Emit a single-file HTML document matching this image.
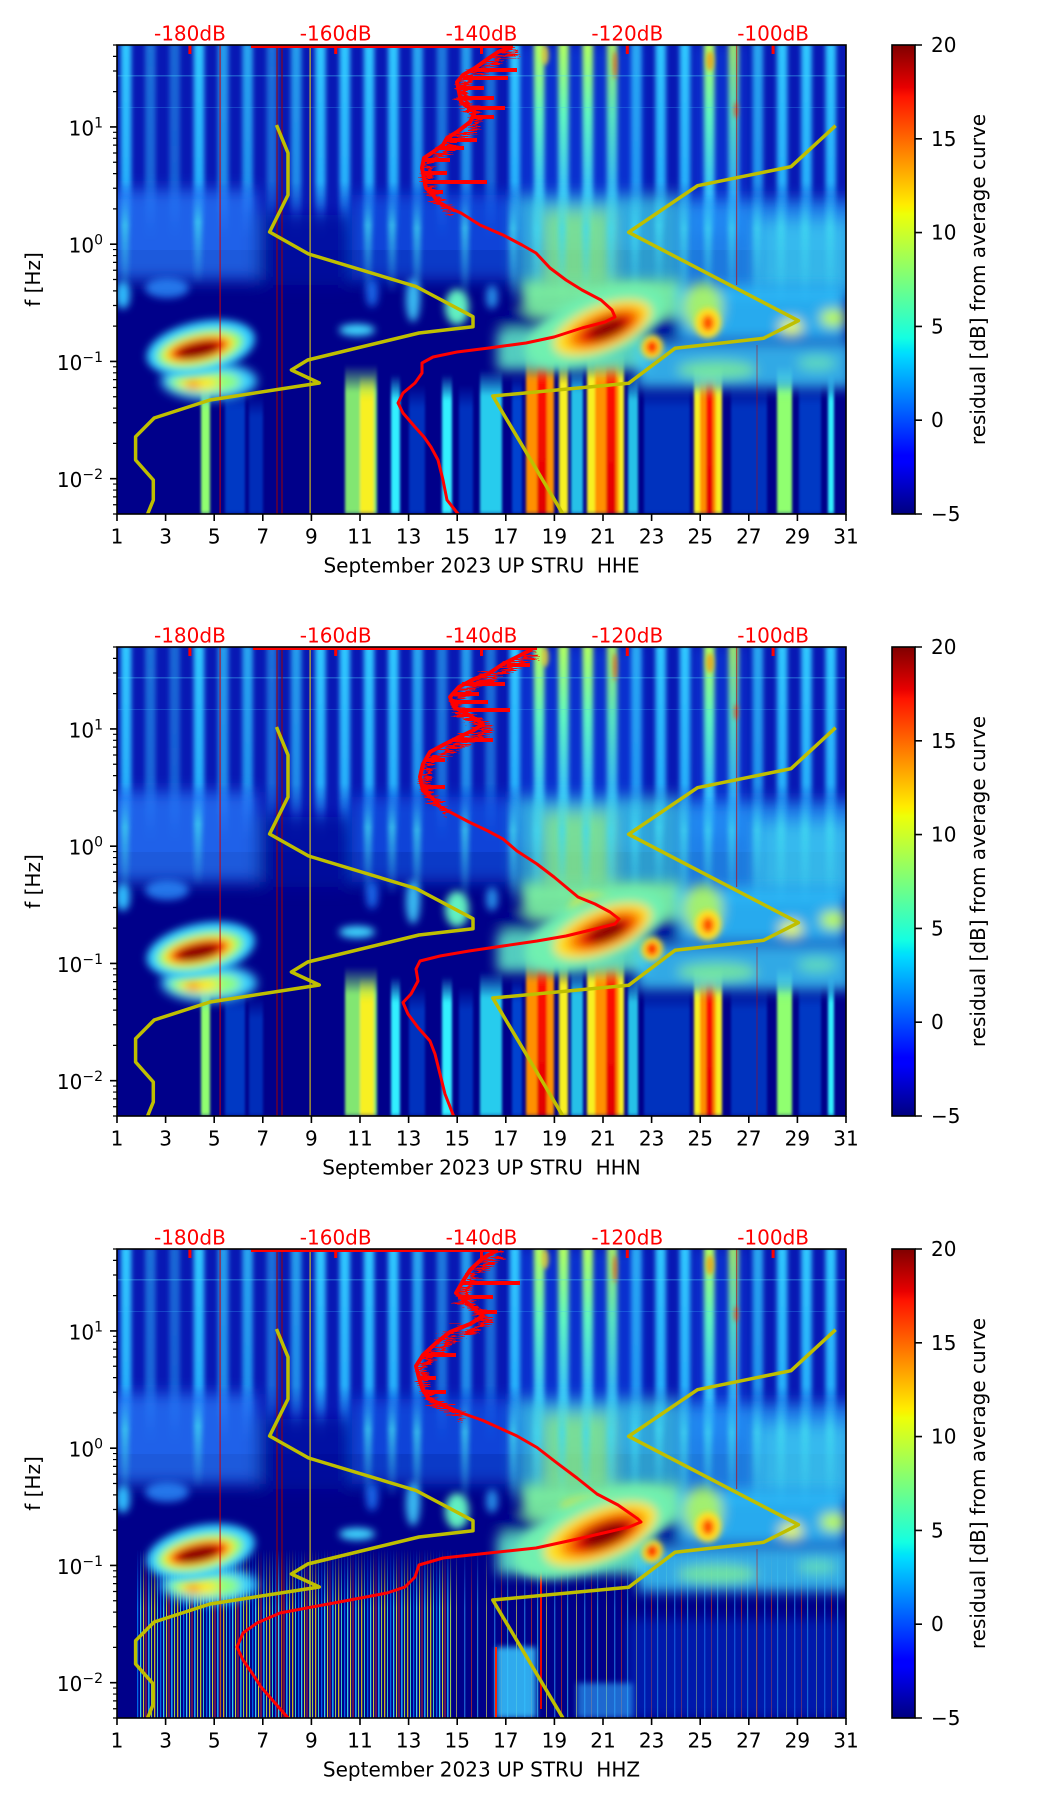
<!DOCTYPE html>
<html><head><meta charset="utf-8"><style>
html,body{margin:0;padding:0;background:#fff;}
svg{display:block;}
text{font-family:"DejaVu Sans","Liberation Sans",sans-serif;}
</style></head><body>
<svg width="1052" height="1806" viewBox="0 0 1052 1806" xmlns="http://www.w3.org/2000/svg">
<defs>
<clipPath id="pc"><rect x="0" y="0" width="729" height="469"/></clipPath>
<filter id="b2" x="-50%" y="-50%" width="200%" height="200%"><feGaussianBlur stdDeviation="2"/></filter>
<filter id="b3" x="-50%" y="-50%" width="200%" height="200%"><feGaussianBlur stdDeviation="3"/></filter>
<filter id="b4" x="-50%" y="-50%" width="200%" height="200%"><feGaussianBlur stdDeviation="4"/></filter>
<filter id="b5" x="-50%" y="-50%" width="200%" height="200%"><feGaussianBlur stdDeviation="5"/></filter>
<filter id="b6" x="-20%" y="-20%" width="140%" height="140%"><feGaussianBlur stdDeviation="6"/></filter>
<filter id="b8" x="-20%" y="-20%" width="140%" height="140%"><feGaussianBlur stdDeviation="8"/></filter>
<filter id="bs" x="-5%" y="-5%" width="110%" height="110%"><feGaussianBlur stdDeviation="2.5 1"/></filter>
<filter id="bc" x="-10%" y="-10%" width="120%" height="120%"><feGaussianBlur stdDeviation="1.2 2"/></filter>
<filter id="nz" x="-30%" y="-10%" width="160%" height="120%">
<feTurbulence type="turbulence" baseFrequency="0.04 0.5" numOctaves="2" seed="3" result="t"/>
<feDisplacementMap in="SourceGraphic" in2="t" scale="20" xChannelSelector="R" yChannelSelector="G"/>
</filter>

<linearGradient id="jet" x1="0" y1="1" x2="0" y2="0">
<stop offset="0" stop-color="#000080"/><stop offset="0.11" stop-color="#0000ff"/><stop offset="0.125" stop-color="#0000ff"/>
<stop offset="0.34" stop-color="#00dbff"/><stop offset="0.35" stop-color="#00e6f7"/><stop offset="0.375" stop-color="#14ffe2"/>
<stop offset="0.64" stop-color="#eeff08"/><stop offset="0.65" stop-color="#f7f500"/><stop offset="0.66" stop-color="#ffec00"/>
<stop offset="0.89" stop-color="#ff1300"/><stop offset="0.91" stop-color="#e80000"/><stop offset="1" stop-color="#800000"/>
</linearGradient>

<linearGradient id="sg" x1="0" y1="0" x2="0" y2="1">
<stop offset="0" stop-color="#30c8ff"/><stop offset="0.7" stop-color="#28b8ff" stop-opacity="0.95"/><stop offset="1" stop-color="#2080ff" stop-opacity="0"/>
</linearGradient>
<linearGradient id="sgy" x1="0" y1="0" x2="0" y2="1">
<stop offset="0" stop-color="#b0ff60"/><stop offset="0.35" stop-color="#60f8c0"/><stop offset="0.75" stop-color="#38c8ff" stop-opacity="0.95"/><stop offset="1" stop-color="#2080ff" stop-opacity="0"/>
</linearGradient>
<linearGradient id="st" x1="0" y1="0" x2="0" y2="1">
<stop offset="0" stop-color="#40d8f0" stop-opacity="0"/><stop offset="0.3" stop-color="#40d8f0" stop-opacity="0.75"/><stop offset="1" stop-color="#40d8f0" stop-opacity="0"/>
</linearGradient>

<linearGradient id="cC" x1="0" y1="0" x2="0" y2="1"><stop offset="0" stop-color="#30f0ff" stop-opacity="0"/><stop offset="0.18" stop-color="#30f0ff"/><stop offset="1" stop-color="#30f0ff"/></linearGradient>
<linearGradient id="cY" x1="0" y1="0" x2="0" y2="1"><stop offset="0" stop-color="#f8f020" stop-opacity="0"/><stop offset="0.18" stop-color="#f8f020"/><stop offset="1" stop-color="#f8f020"/></linearGradient>
<linearGradient id="cO" x1="0" y1="0" x2="0" y2="1"><stop offset="0" stop-color="#ff9000" stop-opacity="0"/><stop offset="0.18" stop-color="#ff9000"/><stop offset="1" stop-color="#ff9000"/></linearGradient>
<linearGradient id="cR" x1="0" y1="0" x2="0" y2="1"><stop offset="0" stop-color="#ff1000" stop-opacity="0"/><stop offset="0.18" stop-color="#ff1000"/><stop offset="1" stop-color="#e00000"/></linearGradient>
<linearGradient id="cG" x1="0" y1="0" x2="0" y2="1"><stop offset="0" stop-color="#90ff70" stop-opacity="0"/><stop offset="0.18" stop-color="#90ff70"/><stop offset="1" stop-color="#90ff70"/></linearGradient>
<linearGradient id="cB" x1="0" y1="0" x2="0" y2="1"><stop offset="0" stop-color="#0070ff" stop-opacity="0"/><stop offset="0.18" stop-color="#0070ff"/><stop offset="1" stop-color="#0070ff"/></linearGradient>

<linearGradient id="fadeW" x1="0" y1="0" x2="0" y2="1"><stop offset="0" stop-color="#fff" stop-opacity="0"/><stop offset="0.35" stop-color="#fff" stop-opacity="1"/><stop offset="1" stop-color="#fff" stop-opacity="1"/></linearGradient>
<mask id="m3" maskUnits="userSpaceOnUse" x="0" y="0" width="729" height="469"><rect x="0" y="300" width="729" height="169" fill="url(#fadeW)"/></mask>

<pattern id="p3a" patternUnits="userSpaceOnUse" x="0" y="0" width="23" height="10">
<rect x="0" y="0" width="1.3" height="10" fill="#40ffff"/><rect x="3" y="0" width="1.1" height="10" fill="#ffff20"/>
<rect x="5.5" y="0" width="1" height="10" fill="#ff3000"/><rect x="8" y="0" width="1.6" height="10" fill="#20c0ff"/>
<rect x="11" y="0" width="1.1" height="10" fill="#c0ff40"/><rect x="14" y="0" width="1.3" height="10" fill="#ffe000"/>
<rect x="17" y="0" width="1" height="10" fill="#40ffd0"/><rect x="20" y="0" width="1.3" height="10" fill="#0080ff"/>
</pattern>
<pattern id="p3b" patternUnits="userSpaceOnUse" x="0" y="0" width="30" height="10">
<rect x="0" y="0" width="1.2" height="10" fill="#40e0ff"/><rect x="9" y="0" width="1" height="10" fill="#ffff40"/>
<rect x="17" y="0" width="1.4" height="10" fill="#30a0ff"/><rect x="24" y="0" width="1" height="10" fill="#ff4000"/>
</pattern>

<g id="upper">
<rect x="0" y="0" width="729" height="205" fill="#0818b4"/>
<rect x="400" y="0" width="125" height="200" fill="#1050f0" opacity="0.45" filter="url(#b6)"/>
<rect x="575" y="0" width="55" height="190" fill="#1050f0" opacity="0.4" filter="url(#b6)"/>
<g filter="url(#bs)">
<rect x="3.8" y="0" width="10.5" height="195" fill="url(#sg)"/>
<rect x="28.1" y="0" width="10.5" height="195" fill="url(#sg)" opacity="0.5"/>
<rect x="52.4" y="0" width="10.5" height="195" fill="url(#sg)" opacity="0.45"/>
<rect x="76.7" y="0" width="10.5" height="195" fill="url(#sg)"/>
<rect x="101" y="0" width="10.5" height="195" fill="url(#sg)" opacity="0.75"/>
<rect x="125.3" y="0" width="10.5" height="195" fill="url(#sg)" opacity="0.8"/>
<rect x="149.6" y="0" width="10.5" height="195" fill="url(#sg)" opacity="0.5"/>
<rect x="173.9" y="0" width="10.5" height="195" fill="url(#sg)" opacity="0.75"/>
<rect x="198.2" y="0" width="10.5" height="195" fill="url(#sg)"/>
<rect x="222.5" y="0" width="10.5" height="195" fill="url(#sg)"/>
<rect x="246.8" y="0" width="10.5" height="195" fill="url(#sg)"/>
<rect x="271.1" y="0" width="10.5" height="195" fill="url(#sg)"/>
<rect x="295.4" y="0" width="10.5" height="195" fill="url(#sg)" opacity="0.8"/>
<rect x="319.7" y="0" width="10.5" height="195" fill="url(#sg)" opacity="0.55"/>
<rect x="344" y="0" width="10.5" height="195" fill="url(#sg)" opacity="0.75"/>
<rect x="368.3" y="0" width="10.5" height="195" fill="url(#sg)" opacity="0.5"/>
<rect x="392.6" y="0" width="10.5" height="195" fill="url(#sg)"/>
<rect x="416.9" y="0" width="10.5" height="200" fill="url(#sgy)"/>
<rect x="441.2" y="0" width="10.5" height="200" fill="url(#sgy)"/>
<rect x="465.5" y="0" width="10.5" height="200" fill="url(#sgy)"/>
<rect x="489.8" y="0" width="10.5" height="200" fill="url(#sgy)" opacity="0.9"/>
<rect x="514.1" y="0" width="10.5" height="195" fill="url(#sg)" opacity="0.8"/>
<rect x="538.4" y="0" width="10.5" height="195" fill="url(#sg)"/>
<rect x="562.7" y="0" width="10.5" height="195" fill="url(#sg)"/>
<rect x="587" y="0" width="10.5" height="200" fill="url(#sgy)"/>
<rect x="611.3" y="0" width="10.5" height="200" fill="url(#sgy)" opacity="0.85"/>
<rect x="635.6" y="0" width="10.5" height="195" fill="url(#sg)" opacity="0.8"/>
<rect x="659.9" y="0" width="10.5" height="195" fill="url(#sg)"/>
<rect x="684.2" y="0" width="10.5" height="195" fill="url(#sg)"/>
<rect x="708.5" y="0" width="10.5" height="195" fill="url(#sg)"/>
</g>
<g filter="url(#b2)" opacity="0.7">
<ellipse cx="428" cy="10" rx="4" ry="10" fill="#ffe020"/>
<ellipse cx="593" cy="16" rx="4" ry="10" fill="#ff9000"/>
<ellipse cx="498" cy="20" rx="2" ry="14" fill="#ff4000"/>
<ellipse cx="619" cy="65" rx="2" ry="8" fill="#ff3000"/>
</g>
<rect x="0" y="30" width="729" height="1.5" fill="#50e0ff" opacity="0.3"/>
<rect x="0" y="62" width="729" height="1" fill="#40c0ff" opacity="0.25"/>
</g>

<g id="mid">
<g filter="url(#b8)">
<rect x="-10" y="145" width="150" height="90" fill="#2a80ff" opacity="0.7"/>
<rect x="140" y="170" width="95" height="70" fill="#0008a0" opacity="0.85"/>
<rect x="235" y="150" width="165" height="85" fill="#1060f0" opacity="0.6"/>
<rect x="400" y="150" width="165" height="95" fill="#40d8e8" opacity="0.72"/>
<rect x="425" y="165" width="70" height="80" fill="#a8ff68" opacity="0.6"/>
<rect x="565" y="155" width="175" height="95" fill="#28a8ff" opacity="0.72"/>
<rect x="640" y="175" width="95" height="70" fill="#48e0f0" opacity="0.6"/>
</g>
<g filter="url(#bs)">
<rect x="392" y="150" width="8" height="110" fill="url(#st)"/>
<rect x="416" y="150" width="8" height="110" fill="url(#st)"/>
<rect x="441" y="150" width="8" height="110" fill="url(#st)"/>
<rect x="465" y="150" width="8" height="110" fill="url(#st)"/>
<rect x="490" y="150" width="8" height="110" fill="url(#st)"/>
<rect x="514" y="150" width="8" height="110" fill="url(#st)"/>
<rect x="538" y="150" width="8" height="100" fill="url(#st)"/>
<rect x="563" y="150" width="8" height="110" fill="url(#st)"/>
<rect x="587" y="150" width="8" height="110" fill="url(#st)"/>
<rect x="611" y="150" width="8" height="110" fill="url(#st)"/>
<rect x="636" y="150" width="8" height="110" fill="url(#st)"/>
<rect x="660" y="150" width="8" height="110" fill="url(#st)"/>
<rect x="684" y="150" width="8" height="110" fill="url(#st)"/>
<rect x="709" y="150" width="8" height="110" fill="url(#st)"/>
<rect x="4" y="150" width="8" height="100" fill="url(#st)"/>
<rect x="77" y="150" width="8" height="90" fill="url(#st)"/>
<rect x="247" y="150" width="8" height="100" fill="url(#st)"/>
<rect x="271" y="150" width="8" height="100" fill="url(#st)"/>
<rect x="296" y="150" width="8" height="110" fill="url(#st)"/>
<rect x="344" y="150" width="8" height="110" fill="url(#st)"/>
</g>
<g filter="url(#b4)">
<ellipse cx="6" cy="250" rx="7" ry="14" fill="#30c0ff"/>
<ellipse cx="50" cy="243" rx="22" ry="10" fill="#2a90ff" opacity="0.8"/>
<ellipse cx="255" cy="248" rx="6" ry="14" fill="#2080ff" opacity="0.8"/>
<ellipse cx="296" cy="255" rx="7" ry="22" fill="#40d0ff" opacity="0.9"/>
<ellipse cx="340" cy="262" rx="12" ry="18" fill="#60f0c0"/>
<ellipse cx="240" cy="285" rx="18" ry="6" fill="#40d8ff"/>
<ellipse cx="375" cy="252" rx="6" ry="12" fill="#30b0ff" opacity="0.8"/>
</g>
<g filter="url(#b6)">
<rect x="405" y="235" width="160" height="40" fill="#80f8a0" opacity="0.9"/>
<rect x="560" y="240" width="169" height="55" fill="#30c8ff" opacity="0.85"/>
<rect x="380" y="285" width="150" height="40" fill="#60f0c8" opacity="0.85"/>
<rect x="520" y="298" width="215" height="45" fill="#40d8ff" opacity="0.78"/>
<ellipse cx="586" cy="262" rx="20" ry="25" fill="#c0ff50" opacity="0.8"/>
<ellipse cx="400" cy="275" rx="18" ry="10" fill="#000090"/>
<ellipse cx="548" cy="282" rx="16" ry="12" fill="#0000a0"/>
<ellipse cx="716" cy="273" rx="13" ry="9" fill="#c0ff40"/>
<ellipse cx="674" cy="282" rx="12" ry="8" fill="#f0ff30"/>
<ellipse cx="600" cy="325" rx="40" ry="10" fill="#90ff80" opacity="0.65"/>
<ellipse cx="700" cy="318" rx="20" ry="8" fill="#80ffa0" opacity="0.55"/>
</g>
<g filter="url(#b3)">
<ellipse cx="591" cy="278" rx="13" ry="15" fill="#ffe020"/>
<ellipse cx="591" cy="278" rx="6" ry="8" fill="#ff5000"/>
<ellipse cx="535" cy="302" rx="11" ry="12" fill="#ffe020"/>
<ellipse cx="535" cy="302" rx="6" ry="7" fill="#ff3000"/>
</g>
<g filter="url(#b5)">
<ellipse cx="92" cy="336" rx="48" ry="19" fill="#38d0ff"/>
<ellipse cx="88" cy="337" rx="36" ry="12" fill="#90ff78"/>
<ellipse cx="82" cy="338" rx="20" ry="7" fill="#ffe820"/>
<ellipse cx="76" cy="340" rx="6" ry="4" fill="#ff5000"/>
</g>
<g filter="url(#b4)" transform="rotate(-12 82 304)">
<ellipse cx="84" cy="303" rx="55" ry="26" fill="#30d0ff"/>
<ellipse cx="83" cy="304" rx="44" ry="18" fill="#90ff70"/>
<ellipse cx="82" cy="304" rx="36" ry="13" fill="#ffd820"/>
<ellipse cx="82" cy="304" rx="29" ry="10" fill="#f02000"/>
<ellipse cx="81" cy="305" rx="21" ry="7" fill="#8a0000"/>
</g>
</g>

<g id="low12">
<g filter="url(#bc)">
<rect x="84" y="335" width="9" height="134" fill="url(#cG)"/>
<rect x="108" y="340" width="20" height="129" fill="url(#cB)" opacity="0.5"/>
<rect x="132" y="350" width="14" height="119" fill="url(#cB)" opacity="0.4"/>
<rect x="228" y="320" width="32" height="149" fill="url(#cG)" opacity="0.9"/>
<rect x="243" y="330" width="14" height="139" fill="url(#cY)"/>
<rect x="274" y="330" width="9" height="139" fill="url(#cC)"/>
<rect x="292" y="340" width="16" height="129" fill="url(#cB)" opacity="0.45"/>
<rect x="325" y="330" width="10" height="139" fill="url(#cC)"/>
<rect x="342" y="340" width="14" height="129" fill="url(#cB)" opacity="0.45"/>
<rect x="363" y="325" width="22" height="144" fill="url(#cC)" opacity="0.85"/>
<rect x="395" y="330" width="10" height="139" fill="url(#cB)" opacity="0.6"/>
<rect x="409" y="305" width="28" height="164" fill="url(#cO)"/>
<rect x="420" y="310" width="10" height="159" fill="url(#cR)"/>
<rect x="442" y="310" width="9" height="159" fill="url(#cY)"/>
<rect x="454" y="320" width="12" height="149" fill="url(#cC)" opacity="0.8"/>
<rect x="470" y="305" width="37" height="164" fill="url(#cY)"/>
<rect x="478" y="310" width="24" height="159" fill="url(#cO)"/>
<rect x="489" y="315" width="10" height="154" fill="url(#cR)"/>
<rect x="511" y="330" width="10" height="139" fill="url(#cC)" opacity="0.8"/>
<rect x="527" y="340" width="46" height="129" fill="url(#cB)" opacity="0.45"/>
<rect x="577" y="320" width="28" height="149" fill="url(#cY)"/>
<rect x="583" y="325" width="16" height="144" fill="url(#cO)"/>
<rect x="589" y="330" width="7" height="139" fill="url(#cR)"/>
<rect x="614" y="340" width="36" height="129" fill="url(#cB)" opacity="0.45"/>
<rect x="660" y="320" width="15" height="149" fill="url(#cG)"/>
<rect x="682" y="335" width="22" height="134" fill="url(#cB)" opacity="0.5"/>
<rect x="711" y="330" width="6" height="139" fill="url(#cC)"/>
</g>
</g>

<g id="low3">
<g mask="url(#m3)" opacity="0.8">
<rect x="19" y="300" width="316" height="169" fill="url(#p3a)"/>
<rect x="335" y="300" width="394" height="169" fill="url(#p3b)" opacity="0.7"/>
</g>
<rect x="510" y="370" width="219" height="99" fill="#0040e0" opacity="0.4" filter="url(#b6)"/>
<rect x="379" y="398" width="40" height="71" fill="#38c8ff" opacity="0.85" filter="url(#b3)"/>
<rect x="378" y="398" width="2" height="71" fill="#ff2000"/>
<rect x="460" y="434" width="56" height="35" fill="#30b0ff" opacity="0.6" filter="url(#b3)"/>
<rect x="423" y="300" width="2" height="160" fill="url(#cR)"/>
</g>

<g id="thin">
<rect x="102.5" y="0" width="1.2" height="469" fill="#d00000" opacity="0.8"/>
<rect x="159.5" y="0" width="1" height="469" fill="#a00000"/>
<rect x="164.5" y="0" width="1" height="469" fill="#a00000"/>
<rect x="192.5" y="0" width="1.2" height="469" fill="#ffe000" opacity="0.8"/>
<rect x="619" y="0" width="1.2" height="240" fill="#c00000" opacity="0.6"/>
<rect x="639.5" y="300" width="1" height="169" fill="#c00000" opacity="0.5"/>
</g>

<g id="yel" fill="none" stroke="#bfbf00" stroke-width="3.5" stroke-linejoin="round">
<polyline points="159.5,80 171,108 171,150 152.6,187 191.6,209 299,241.5 356,271.7 356,281.7 302,288 190.7,315 174.4,325 202.3,338 93,355 37.2,373 18.6,391.7 18.6,415 36.3,435 36.3,455 30.2,470"/>
<polyline points="718.6,80.7 674,121.7 580.5,140.7 511.6,187.3 681.4,275.7 646.5,293.3 558,303.3 511.6,338.3 375.8,351 446.5,470"/>
</g>

<g id="rt" fill="#ff0000">
<rect x="71.4" y="0" width="3" height="9"/><rect x="217.2" y="0" width="3" height="9"/><rect x="363" y="0" width="3" height="9"/><rect x="508.8" y="0" width="3" height="9"/><rect x="654.6" y="0" width="3" height="9"/>
</g>

<g id="ticks" stroke="#000" fill="none">
<path stroke-width="1.6" d="M-7 81.95H0M-7 199.2H0M-7 316.45H0M-7 433.7H0"/>
<path stroke-width="1.2" d="M-4 0H0M-4 11.36H0M-4 26.01H0M-4 46.66H0M-4 87.32H0M-4 93.32H0M-4 100.12H0M-4 107.97H0M-4 117.25H0M-4 128.61H0M-4 143.26H0M-4 163.91H0M-4 204.57H0M-4 210.57H0M-4 217.37H0M-4 225.22H0M-4 234.5H0M-4 245.86H0M-4 260.51H0M-4 281.16H0M-4 321.82H0M-4 327.82H0M-4 334.62H0M-4 342.47H0M-4 351.75H0M-4 363.11H0M-4 377.76H0M-4 398.41H0M-4 439.07H0M-4 445.07H0M-4 451.87H0M-4 459.72H0M-4 469H0"/>
<path stroke-width="1.6" d="M0 469V476M48.6 469V476M97.2 469V476M145.8 469V476M194.4 469V476M243 469V476M291.6 469V476M340.2 469V476M388.8 469V476M437.4 469V476M486 469V476M534.6 469V476M583.2 469V476M631.8 469V476M680.4 469V476M729 469V476"/>
<path stroke-width="1.6" d="M798 0H805M798 93.8H805M798 187.6H805M798 281.4H805M798 375.2H805M798 469H805"/>
</g>
</defs>

<rect width="1052" height="1806" fill="#fff"/>

<!-- PANEL 1 -->
<g transform="translate(117,45)">
<g clip-path="url(#pc)">
<rect width="729" height="469" fill="#00008a"/>
<use href="#upper"/>
<use href="#low12"/>
<use href="#mid"/>
<g filter="url(#b5)" transform="rotate(-22 488 284)">
<ellipse cx="480" cy="278" rx="75" ry="32" fill="#70f0b0"/>
<ellipse cx="486" cy="282" rx="52" ry="22" fill="#ffe020"/>
<ellipse cx="488" cy="283" rx="40" ry="16" fill="#ff8800"/>
<ellipse cx="489" cy="284" rx="30" ry="12" fill="#e81000"/>
<ellipse cx="490" cy="285" rx="20" ry="8" fill="#850000"/>
</g>
<use href="#thin"/>
<use href="#yel"/>
<g fill="none" stroke="#ff0000" stroke-linejoin="round">
<line x1="134" y1="1.5" x2="396" y2="1.5" stroke-width="3"/>
<polyline stroke-width="4" points="395,1.7 381,7 372,13 358,23 346,30 340,37 342,47 344,57 358,67 353,77 340,87 330,93 326,100 316,107 307,113 305,123 307,133 309,143 316,150 321,157 330,162"/>
<polyline stroke-width="6" filter="url(#nz)" points="395,1.7 381,7 372,13 358,23 346,30 340,37 342,47 344,57 358,67 353,77 340,87 330,93 326,100 316,107 307,113 305,123 307,133 309,143 316,150 321,157 330,162"/>
<path stroke-width="4" d="M358 25H400M346 33H391M341 43H367M343 53H377M350 63H388M355 72H377M328 95H360M321 103H347M306 115H333M306 128H330M308 137H370M312 147H326"/>
<polyline stroke-width="3" points="330,162 344,168 363,180 386,190 405,200 419,208 433,223 449,235 465,245 484,255 495,265 498,272 488,277 465,283 437,292 409,298 372,303 340,307 316,312 305,318 305,328 298,338 286,348 281,358 286,368 298,382 307,392 314,402 321,415 326,435 330,455 342,470"/>
</g>
<use href="#rt"/>
</g>
<rect x="0" y="0" width="729" height="469" fill="none" stroke="#000" stroke-width="1.6"/>
<rect x="775" y="0" width="23" height="469" fill="url(#jet)" stroke="#000" stroke-width="1.6"/>
<use href="#ticks"/>
<g font-size="20" fill="#ff0000" text-anchor="middle">
<text x="72.9" y="-4.5">-180dB</text><text x="218.7" y="-4.5">-160dB</text><text x="364.5" y="-4.5">-140dB</text><text x="510.3" y="-4.5">-120dB</text><text x="656.1" y="-4.5">-100dB</text>
</g>
<g font-size="20" fill="#000" text-anchor="end">
<text x="-14" y="90.5">10<tspan dy="-8" font-size="14">1</tspan></text>
<text x="-14" y="207.7">10<tspan dy="-8" font-size="14">0</tspan></text>
<text x="-14" y="325">10<tspan dy="-8" font-size="14">−1</tspan></text>
<text x="-14" y="442.2">10<tspan dy="-8" font-size="14">−2</tspan></text>
</g>
<g font-size="20" fill="#000" text-anchor="middle">
<text x="0" y="498.5">1</text><text x="48.6" y="498.5">3</text><text x="97.2" y="498.5">5</text><text x="145.8" y="498.5">7</text><text x="194.4" y="498.5">9</text><text x="243" y="498.5">11</text><text x="291.6" y="498.5">13</text><text x="340.2" y="498.5">15</text><text x="388.8" y="498.5">17</text><text x="437.4" y="498.5">19</text><text x="486" y="498.5">21</text><text x="534.6" y="498.5">23</text><text x="583.2" y="498.5">25</text><text x="631.8" y="498.5">27</text><text x="680.4" y="498.5">29</text><text x="729" y="498.5">31</text>
<text x="364.5" y="527.7">September 2023 UP STRU&#160; HHE</text>
<text transform="translate(-77,234.5) rotate(-90)">f [Hz]</text>
<text transform="translate(868,234.5) rotate(-90)">residual [dB] from average curve</text>
</g>
<g font-size="20" fill="#000">
<text x="814" y="7">20</text><text x="814" y="100.8">15</text><text x="814" y="194.6">10</text><text x="814" y="288.4">5</text><text x="814" y="382.2">0</text><text x="814" y="476">−5</text>
</g>
</g>

<!-- PANEL 2 -->
<g transform="translate(117,647)">
<g clip-path="url(#pc)">
<rect width="729" height="469" fill="#00008a"/>
<use href="#upper"/>
<use href="#low12"/>
<use href="#mid"/>
<g filter="url(#b4)">
<ellipse cx="476" cy="264" rx="24" ry="17" fill="#ffe020"/>
<ellipse cx="478" cy="266" rx="15" ry="11" fill="#ff3000"/>
</g>
<g filter="url(#b5)" transform="rotate(-22 488 285)">
<ellipse cx="480" cy="279" rx="75" ry="32" fill="#70f0b0"/>
<ellipse cx="486" cy="283" rx="52" ry="22" fill="#ffe020"/>
<ellipse cx="488" cy="284" rx="40" ry="16" fill="#ff8800"/>
<ellipse cx="489" cy="285" rx="30" ry="12" fill="#e81000"/>
<ellipse cx="490" cy="286" rx="20" ry="8" fill="#850000"/>
</g>
<use href="#thin"/>
<use href="#yel"/>
<g fill="none" stroke="#ff0000" stroke-linejoin="round">
<line x1="136" y1="1.5" x2="420" y2="1.5" stroke-width="3"/>
<polyline stroke-width="4" points="415,2.3 400,10 386,17 371,27 357,32 342,40 333,50 337,60 352,68 366,77 357,83 342,90 328,97 313,105 306,117 303,130 306,143.5 318,153.5 323,160"/>
<polyline stroke-width="6" filter="url(#nz)" points="415,2.3 400,10 386,17 371,27 357,32 342,40 333,50 337,60 352,68 366,77 357,83 342,90 328,97 313,105 306,117 303,130 306,143.5 318,153.5 323,160"/>
<path stroke-width="4" d="M390 18H413M345 37H388M335 47H362M335 55H371M345 63H393M335 93H376M307 113H328M305 140H328"/>
<polyline stroke-width="3" points="323,160 333,165 352,175 371,184 386,192 400,204 420,217 437,230 449,240 461,250 478,257 493,265 502,272 498,277 478,282 449,289 420,294 386,299 352,304 323,309 303,314 299,322 301,334 294,347 286,355.5 291,367 301,380.5 313,394 318,407 323,427 328,447 337,470"/>
</g>
<use href="#rt"/>
</g>
<rect x="0" y="0" width="729" height="469" fill="none" stroke="#000" stroke-width="1.6"/>
<rect x="775" y="0" width="23" height="469" fill="url(#jet)" stroke="#000" stroke-width="1.6"/>
<use href="#ticks"/>
<g font-size="20" fill="#ff0000" text-anchor="middle">
<text x="72.9" y="-4.5">-180dB</text><text x="218.7" y="-4.5">-160dB</text><text x="364.5" y="-4.5">-140dB</text><text x="510.3" y="-4.5">-120dB</text><text x="656.1" y="-4.5">-100dB</text>
</g>
<g font-size="20" fill="#000" text-anchor="end">
<text x="-14" y="90.5">10<tspan dy="-8" font-size="14">1</tspan></text>
<text x="-14" y="207.7">10<tspan dy="-8" font-size="14">0</tspan></text>
<text x="-14" y="325">10<tspan dy="-8" font-size="14">−1</tspan></text>
<text x="-14" y="442.2">10<tspan dy="-8" font-size="14">−2</tspan></text>
</g>
<g font-size="20" fill="#000" text-anchor="middle">
<text x="0" y="498.5">1</text><text x="48.6" y="498.5">3</text><text x="97.2" y="498.5">5</text><text x="145.8" y="498.5">7</text><text x="194.4" y="498.5">9</text><text x="243" y="498.5">11</text><text x="291.6" y="498.5">13</text><text x="340.2" y="498.5">15</text><text x="388.8" y="498.5">17</text><text x="437.4" y="498.5">19</text><text x="486" y="498.5">21</text><text x="534.6" y="498.5">23</text><text x="583.2" y="498.5">25</text><text x="631.8" y="498.5">27</text><text x="680.4" y="498.5">29</text><text x="729" y="498.5">31</text>
<text x="364.5" y="527.7">September 2023 UP STRU&#160; HHN</text>
<text transform="translate(-77,234.5) rotate(-90)">f [Hz]</text>
<text transform="translate(868,234.5) rotate(-90)">residual [dB] from average curve</text>
</g>
<g font-size="20" fill="#000">
<text x="814" y="7">20</text><text x="814" y="100.8">15</text><text x="814" y="194.6">10</text><text x="814" y="288.4">5</text><text x="814" y="382.2">0</text><text x="814" y="476">−5</text>
</g>
</g>

<!-- PANEL 3 -->
<g transform="translate(117,1249)">
<g clip-path="url(#pc)">
<rect width="729" height="469" fill="#00008a"/>
<use href="#upper"/>
<use href="#low3"/>
<use href="#mid"/>
<g filter="url(#b4)">
<ellipse cx="482" cy="258" rx="38" ry="11" fill="#ffe020" opacity="0.8"/>
</g>
<g filter="url(#b5)" transform="rotate(-22 486 286)">
<ellipse cx="478" cy="280" rx="85" ry="36" fill="#70f0b0"/>
<ellipse cx="484" cy="284" rx="60" ry="25" fill="#ffe020"/>
<ellipse cx="486" cy="285" rx="46" ry="18" fill="#ff8800"/>
<ellipse cx="487" cy="286" rx="35" ry="14" fill="#e81000"/>
<ellipse cx="488" cy="287" rx="24" ry="10" fill="#850000"/>
</g>
<use href="#thin"/>
<use href="#yel"/>
<g fill="none" stroke="#ff0000" stroke-linejoin="round">
<line x1="134" y1="1.5" x2="381" y2="1.5" stroke-width="3"/>
<polyline stroke-width="4" points="380,1.5 366,9 353,21 346,32 339,44 353,56 366,67 353,75 333,83 319,94 306,106 299,117 302,129 306,141 312,150 339,162"/>
<polyline stroke-width="6" filter="url(#nz)" points="380,1.5 366,9 353,21 346,32 339,44 353,56 366,67 353,75 333,83 319,94 306,106 299,117 302,129 306,141 312,150 339,162"/>
<path stroke-width="4" d="M346 34H403M341 48H376M360 63H380M306 106H339M302 129H319M307 143H329"/>
<polyline stroke-width="3" points="339,162 366,171.5 400,187 420,198.5 440,214 460,229 480,245 501,256 521,270 524,273 512,278 465,289 419,299 372,304 326,309 302,316 298,328 288,338 270,344 233,351 195,358 163,364 140,374 126,384 120,398 126,411 135,424 144,438 158,454 172,470"/>
</g>
<use href="#rt"/>
</g>
<rect x="0" y="0" width="729" height="469" fill="none" stroke="#000" stroke-width="1.6"/>
<rect x="775" y="0" width="23" height="469" fill="url(#jet)" stroke="#000" stroke-width="1.6"/>
<use href="#ticks"/>
<g font-size="20" fill="#ff0000" text-anchor="middle">
<text x="72.9" y="-4.5">-180dB</text><text x="218.7" y="-4.5">-160dB</text><text x="364.5" y="-4.5">-140dB</text><text x="510.3" y="-4.5">-120dB</text><text x="656.1" y="-4.5">-100dB</text>
</g>
<g font-size="20" fill="#000" text-anchor="end">
<text x="-14" y="90.5">10<tspan dy="-8" font-size="14">1</tspan></text>
<text x="-14" y="207.7">10<tspan dy="-8" font-size="14">0</tspan></text>
<text x="-14" y="325">10<tspan dy="-8" font-size="14">−1</tspan></text>
<text x="-14" y="442.2">10<tspan dy="-8" font-size="14">−2</tspan></text>
</g>
<g font-size="20" fill="#000" text-anchor="middle">
<text x="0" y="498.5">1</text><text x="48.6" y="498.5">3</text><text x="97.2" y="498.5">5</text><text x="145.8" y="498.5">7</text><text x="194.4" y="498.5">9</text><text x="243" y="498.5">11</text><text x="291.6" y="498.5">13</text><text x="340.2" y="498.5">15</text><text x="388.8" y="498.5">17</text><text x="437.4" y="498.5">19</text><text x="486" y="498.5">21</text><text x="534.6" y="498.5">23</text><text x="583.2" y="498.5">25</text><text x="631.8" y="498.5">27</text><text x="680.4" y="498.5">29</text><text x="729" y="498.5">31</text>
<text x="364.5" y="527.7">September 2023 UP STRU&#160; HHZ</text>
<text transform="translate(-77,234.5) rotate(-90)">f [Hz]</text>
<text transform="translate(868,234.5) rotate(-90)">residual [dB] from average curve</text>
</g>
<g font-size="20" fill="#000">
<text x="814" y="7">20</text><text x="814" y="100.8">15</text><text x="814" y="194.6">10</text><text x="814" y="288.4">5</text><text x="814" y="382.2">0</text><text x="814" y="476">−5</text>
</g>
</g>
</svg>
</body></html>
